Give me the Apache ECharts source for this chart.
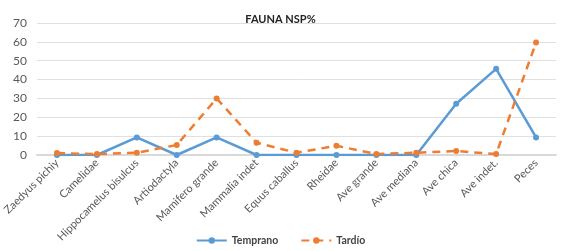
<!DOCTYPE html>
<html>
<head>
<meta charset="utf-8">
<script src="https://cdn.jsdelivr.net/npm/echarts@6/dist/echarts.min.js"></script>
<style>
  html, body { margin: 0; padding: 0; background: #fff; }
  #chart { width: 561px; height: 251px; }
</style>
</head>
<body>
<div id="chart"></div>
<script>
var categories = ['Zaedyus pichiy', 'Camelidae', 'Hippocamelus bisulcus', 'Artiodactyla',
    'Mamifero grande', 'Mammalia indet', 'Equus caballus', 'Rheidae', 'Ave grande',
    'Ave mediana', 'Ave chica', 'Ave indet.', 'Peces'];
var temprano = [0, 0, 9.3, 0, 9.3, 0, 0, 0, 0, 0, 27.2, 45.7, 9.3];
var tardio = [1, 0.5, 1.2, 5.3, 30, 6.5, 1.2, 4.9, 0.5, 1.2, 2.1, 0.5, 59.6];
var yTicks = [0, 70, 10];

var chart = echarts.init(document.getElementById('chart'));
var font = 'Lato, "Liberation Sans", sans-serif';
var option = {
    animation: false,
    textStyle: { fontFamily: font },
    title: {
        text: 'FAUNA NSP%',
        left: 'center',
        top: 9,
        textStyle: { fontSize: 11, fontWeight: 'bold', color: '#222', fontFamily: font }
    },
    legend: {
        bottom: 0,
        left: 'center',
        itemGap: 22,
        itemWidth: 30,
        itemHeight: 8,
        data: ['Temprano', 'Tardío'],
        textStyle: { fontSize: 10.5, fontWeight: 'bold', color: '#444', fontFamily: font }
    },
    grid: {
        left: 37,
        right: 5,
        top: 23,
        bottom: 96
    },
    xAxis: {
        type: 'category',
        data: categories,
        boundaryGap: true,
        axisLine: { show: true, lineStyle: { color: '#d9d9d9', width: 2 } },
        axisTick: { show: false },
        axisLabel: {
            rotate: 45,
            interval: 0,
            fontSize: 11,
            color: '#595959',
            margin: 6
        }
    },
    yAxis: {
        type: 'value',
        min: yTicks[0],
        max: yTicks[1],
        interval: yTicks[2],
        axisLine: { show: false },
        axisTick: { show: false },
        axisLabel: { fontSize: 12, color: '#595959', margin: 10 },
        splitLine: { lineStyle: { color: '#e0e0e0', width: 1 } }
    },
    series: [
        {
            name: 'Temprano',
            type: 'line',
            data: temprano,
            symbol: 'circle',
            symbolSize: 6,
            lineStyle: { color: '#5b9bd5', width: 2.5 },
            itemStyle: { color: '#5b9bd5' }
        },
        {
            name: 'Tardío',
            type: 'line',
            data: tardio,
            symbol: 'circle',
            symbolSize: 6,
            lineStyle: { color: '#ed7d31', width: 2.5, type: [8, 6] },
            itemStyle: { color: '#ed7d31' }
        }
    ]
};
chart.setOption(option);
</script>
</body>
</html>
